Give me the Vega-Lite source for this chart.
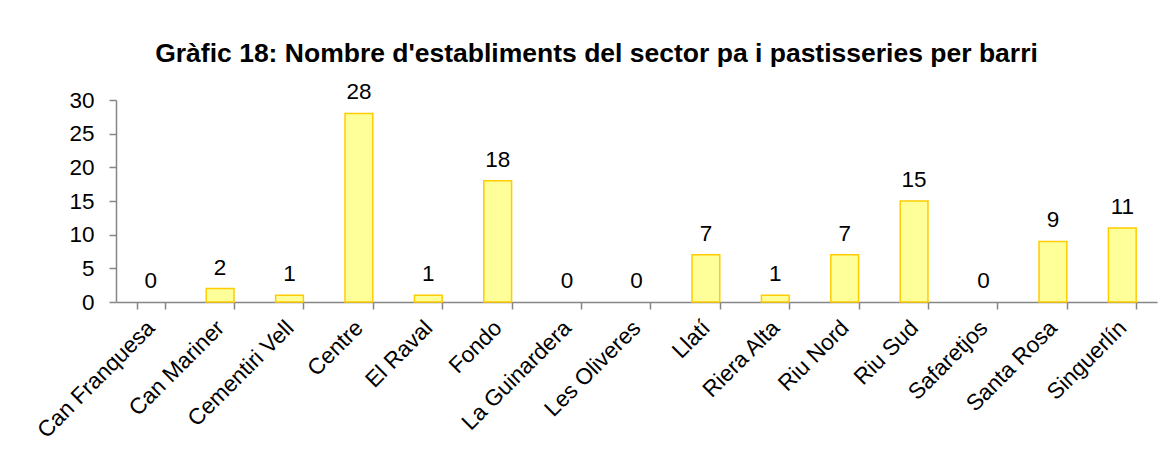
{
  "$schema": "https://vega.github.io/schema/vega-lite/v6.json",
  "autosize": "none",
  "width": 1041,
  "height": 202,
  "padding": {"left": 116, "top": 100, "right": 19, "bottom": 157},
  "background": "white",
  "config": {
    "view": {"stroke": null},
    "font": "Liberation Sans"
  },
  "title": {
    "text": "Gràfic 18: Nombre d'establiments del sector pa i pastisseries per barri",
    "fontSize": 26.5,
    "fontWeight": "bold",
    "font": "Liberation Sans",
    "color": "black",
    "anchor": "middle",
    "frame": "group",
    "dx": -40,
    "offset": 14
  },
  "data": {
    "values": [
      {"barri": "Can Franquesa", "n": 0},
      {"barri": "Can Mariner", "n": 2},
      {"barri": "Cementiri Vell", "n": 1},
      {"barri": "Centre", "n": 28},
      {"barri": "El Raval", "n": 1},
      {"barri": "Fondo", "n": 18},
      {"barri": "La Guinardera", "n": 0},
      {"barri": "Les Oliveres", "n": 0},
      {"barri": "Llatí", "n": 7},
      {"barri": "Riera Alta", "n": 1},
      {"barri": "Riu Nord", "n": 7},
      {"barri": "Riu Sud", "n": 15},
      {"barri": "Safaretjos", "n": 0},
      {"barri": "Santa Rosa", "n": 9},
      {"barri": "Singuerlín", "n": 11}
    ]
  },
  "encoding": {
    "x": {
      "field": "barri",
      "type": "nominal",
      "sort": null,
      "scale": {"paddingInner": 0.6, "paddingOuter": 0.3},
      "axis": {
        "title": null,
        "labelAngle": -45,
        "labelAlign": "right",
        "labelBaseline": "middle",
        "labelFontSize": 22.5,
        "labelColor": "black",
        "labelPadding": 15,
        "labelOverlap": false,
        "tickBand": "extent",
        "tickSize": 7,
        "tickColor": "#868686",
        "domainColor": "#868686",
        "tickWidth": 1.5,
        "domainWidth": 1.5
      }
    },
    "y": {
      "field": "n",
      "type": "quantitative",
      "scale": {"domain": [0, 30], "nice": false},
      "axis": {
        "title": null,
        "values": [0, 5, 10, 15, 20, 25, 30],
        "grid": false,
        "labelFontSize": 22.5,
        "labelColor": "black",
        "labelPadding": 15,
        "tickSize": 7,
        "tickColor": "#868686",
        "domainColor": "#868686",
        "tickWidth": 1.5,
        "domainWidth": 1.5
      }
    }
  },
  "layer": [
    {
      "mark": {"type": "bar", "fill": "#FFFF99", "stroke": "#FFCC00", "strokeWidth": 1.5},
      "encoding": {
        "strokeOpacity": {"condition": {"test": "datum.n === 0", "value": 0}, "value": 1}
      }
    },
    {
      "mark": {"type": "text", "baseline": "alphabetic", "dy": -14, "fontSize": 22.5, "color": "black"},
      "encoding": {"text": {"field": "n", "type": "quantitative"}}
    }
  ]
}
